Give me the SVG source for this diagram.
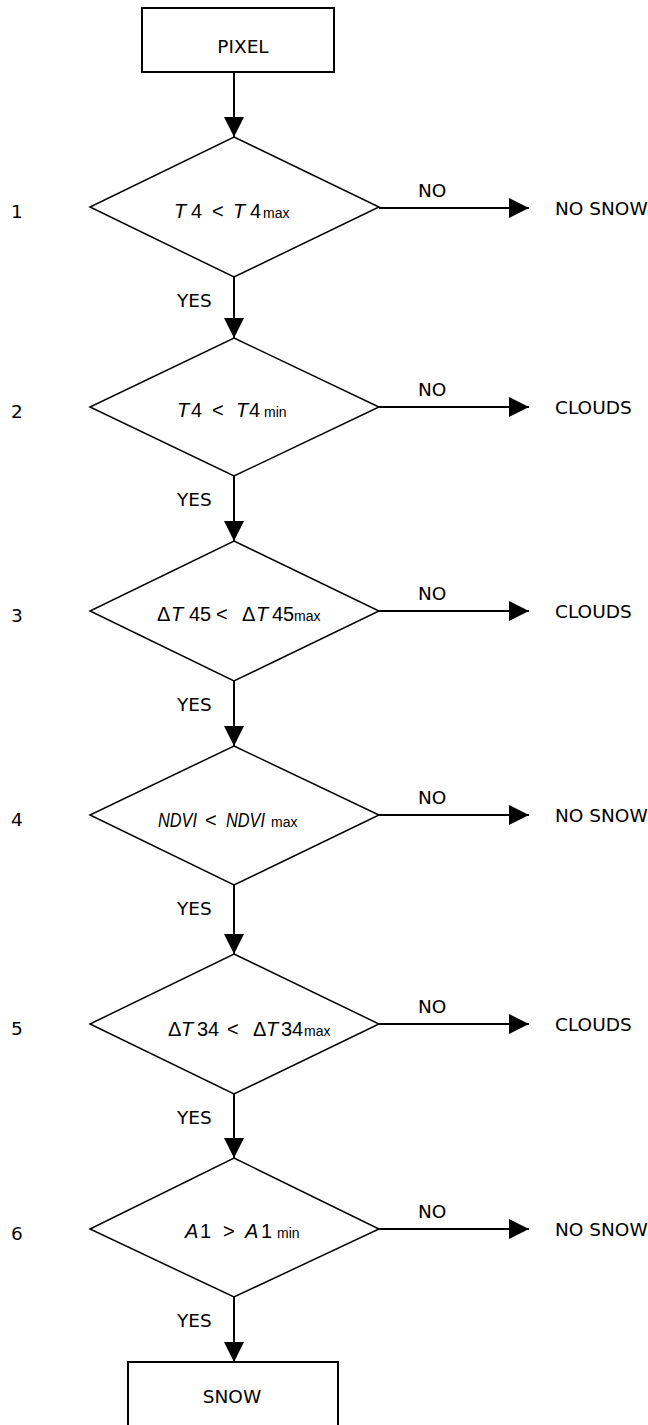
<svg xmlns="http://www.w3.org/2000/svg" width="648" height="1425" viewBox="0 0 648 1425">
<defs>
<style>
.box{fill:#fff;stroke:#000;stroke-width:2}
.dia{fill:#fff;stroke:#000;stroke-width:1.5}
.ln{fill:none;stroke:#000;stroke-width:2}
.lbl{font-family:"DejaVu Sans","Liberation Sans",sans-serif;font-size:18.5px;fill:#000}
.eq{font-family:"Liberation Sans",Arial,sans-serif;font-size:20px;fill:#000}
.i{font-style:italic}
.sub{font-size:14px}
</style>
<marker id="ah" markerWidth="20" markerHeight="20" refX="20" refY="10" orient="auto" markerUnits="userSpaceOnUse">
<path d="M0,0 L20,10 L0,20 Z" fill="#000"/>
</marker>
</defs>
<rect width="648" height="1425" fill="#fff"/>

<g id="connectors">
<line class="ln" x1="234" y1="72" x2="234" y2="137" marker-end="url(#ah)"/>
<line class="ln" x1="234" y1="277" x2="234" y2="338" marker-end="url(#ah)"/>
<line class="ln" x1="234" y1="476" x2="234" y2="541" marker-end="url(#ah)"/>
<line class="ln" x1="234" y1="681" x2="234" y2="746" marker-end="url(#ah)"/>
<line class="ln" x1="234" y1="885" x2="234" y2="954" marker-end="url(#ah)"/>
<line class="ln" x1="234" y1="1094" x2="234" y2="1158" marker-end="url(#ah)"/>
<line class="ln" x1="234" y1="1297" x2="234" y2="1362" marker-end="url(#ah)"/>
<line class="ln" x1="379" y1="208" x2="529" y2="208" marker-end="url(#ah)"/>
<line class="ln" x1="379" y1="407" x2="529" y2="407" marker-end="url(#ah)"/>
<line class="ln" x1="379" y1="611" x2="529" y2="611" marker-end="url(#ah)"/>
<line class="ln" x1="379" y1="815" x2="529" y2="815" marker-end="url(#ah)"/>
<line class="ln" x1="379" y1="1024" x2="529" y2="1024" marker-end="url(#ah)"/>
<line class="ln" x1="379" y1="1229" x2="529" y2="1229" marker-end="url(#ah)"/>
<g class="lbl">
<text x="177" y="307">YES</text>
<text x="177" y="506">YES</text>
<text x="177" y="711">YES</text>
<text x="177" y="915">YES</text>
<text x="177" y="1124">YES</text>
<text x="177" y="1327">YES</text>
<text x="418" y="197">NO</text>
<text x="418" y="396">NO</text>
<text x="418" y="600">NO</text>
<text x="418" y="804">NO</text>
<text x="418" y="1013">NO</text>
<text x="418" y="1218">NO</text>
</g>
</g>

<g id="pixel">
<rect class="box" x="142" y="8" width="192" height="64"/>
<text class="lbl" x="243" y="53" text-anchor="middle">PIXEL</text>
</g>

<g id="test1">
<polygon class="dia" points="234,137 379,207 234,277 90,207"/>
<text class="eq" y="218"><tspan class="i" x="174">T</tspan><tspan x="191">4</tspan><tspan x="212">&lt;</tspan><tspan class="i" x="233">T</tspan><tspan x="250">4</tspan><tspan class="sub" x="263">max</tspan></text>
<text class="lbl" x="11" y="218">1</text>
</g>
<g id="test2">
<polygon class="dia" points="234,338 379,407 234,476 90,407"/>
<text class="eq" y="417"><tspan class="i" x="177">T</tspan><tspan x="191">4</tspan><tspan x="212">&lt;</tspan><tspan class="i" x="236">T</tspan><tspan x="249">4</tspan><tspan class="sub" x="264">min</tspan></text>
<text class="lbl" x="11" y="418">2</text>
</g>
<g id="test3">
<polygon class="dia" points="234,541 379,611 234,681 90,611"/>
<text class="eq" y="621"><tspan x="157">Δ</tspan><tspan class="i" x="171">T</tspan><tspan x="189">45</tspan><tspan x="216">&lt;</tspan><tspan x="242">Δ</tspan><tspan class="i" x="256">T</tspan><tspan x="272">45</tspan><tspan class="sub" x="294">max</tspan></text>
<text class="lbl" x="11" y="622">3</text>
</g>
<g id="test4">
<polygon class="dia" points="234,746 379,815 234,885 90,815"/>
<text class="eq" y="827"><tspan class="i" x="158" textLength="39" lengthAdjust="spacingAndGlyphs">NDVI</tspan><tspan x="205">&lt;</tspan><tspan class="i" x="226" textLength="39" lengthAdjust="spacingAndGlyphs">NDVI</tspan><tspan class="sub" x="271">max</tspan></text>
<text class="lbl" x="11" y="826">4</text>
</g>
<g id="test5">
<polygon class="dia" points="234,954 379,1024 234,1094 90,1024"/>
<text class="eq" y="1036"><tspan x="168">Δ</tspan><tspan class="i" x="181">T</tspan><tspan x="197">34</tspan><tspan x="227">&lt;</tspan><tspan x="253">Δ</tspan><tspan class="i" x="266">T</tspan><tspan x="281">34</tspan><tspan class="sub" x="304">max</tspan></text>
<text class="lbl" x="11" y="1035">5</text>
</g>
<g id="test6">
<polygon class="dia" points="234,1158 379,1229 234,1297 90,1229"/>
<text class="eq" y="1238"><tspan class="i" x="185">A</tspan><tspan x="200">1</tspan><tspan x="223">&gt;</tspan><tspan class="i" x="245">A</tspan><tspan x="261">1</tspan><tspan class="sub" x="277">min</tspan></text>
<text class="lbl" x="11" y="1240">6</text>
</g>

<g id="out1"><text class="lbl" x="555" y="215">NO SNOW</text></g>
<g id="out2"><text class="lbl" x="555" y="414">CLOUDS</text></g>
<g id="out3"><text class="lbl" x="555" y="618">CLOUDS</text></g>
<g id="out4"><text class="lbl" x="555" y="822">NO SNOW</text></g>
<g id="out5"><text class="lbl" x="555" y="1031">CLOUDS</text></g>
<g id="out6"><text class="lbl" x="555" y="1236">NO SNOW</text></g>

<g id="snow">
<polyline class="box" points="128,1430 128,1362 338,1362 338,1430"/>
<text class="lbl" x="232" y="1403" text-anchor="middle">SNOW</text>
</g>
</svg>
